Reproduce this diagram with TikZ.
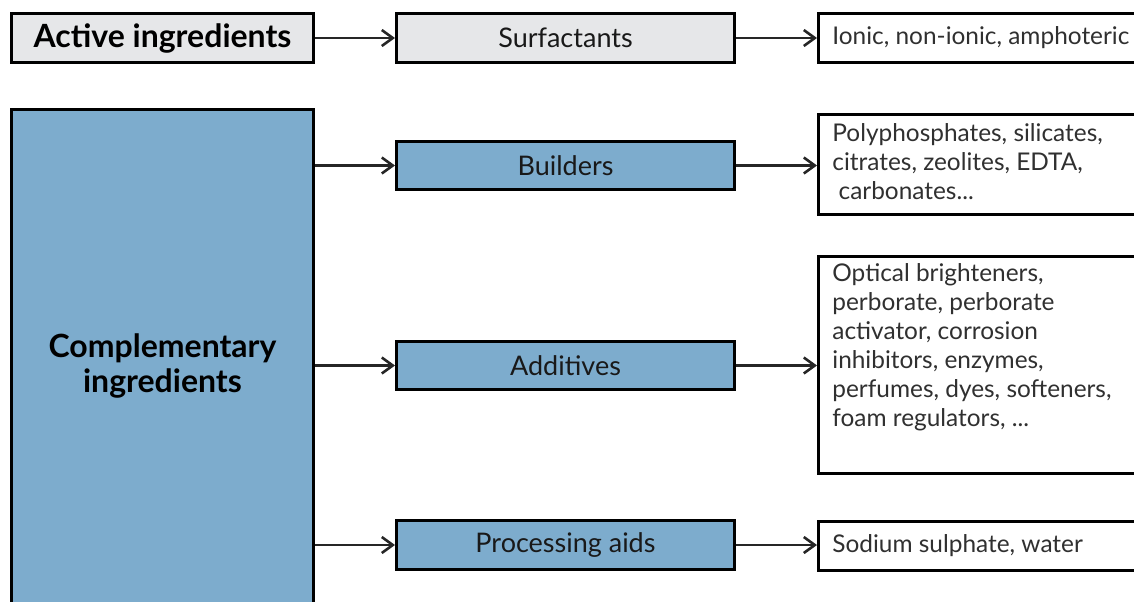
\documentclass[tikz,border=0pt]{standalone}
\usepackage{fontspec}
\setmainfont{Lato}
\usetikzlibrary{arrows.meta}
\definecolor{boxblue}{HTML}{7DACCD}
\definecolor{boxgray}{HTML}{E6E7E9}
\definecolor{txtgray}{HTML}{303030}
\begin{document}
\begin{tikzpicture}[x=0.5pt,y=-0.5pt,
  box/.style={draw=black,line width=1.5pt,inner sep=0pt,anchor=north west},
  title/.style={font=\bfseries\fontsize{16}{17.5}\selectfont},
  mid/.style={font=\fontsize{13.5}{15}\selectfont,text=black!90},
  body/.style={font=\fontsize{12.2}{14.5}\selectfont,text=txtgray,align=left,inner sep=0pt},
  arr/.style={-{Straight Barb[length=5.5pt,width=8pt,line width=1.3pt]},line width=1.2pt,draw=black!85},
]
\useasboundingbox (0,0) rectangle (1134,601);
\clip (0,0) rectangle (1134,601);
% left column
\node[box,fill=boxgray,minimum width=151pt,minimum height=24.5pt,title] (act) at (10,12) {Active ingredients};
\node[box,fill=boxblue,minimum width=151pt,minimum height=256pt,title,align=center] (comp) at (10,108) {Complementary\\ingredients};
% middle column
\node[box,fill=boxgray,minimum width=169pt,minimum height=24.5pt,mid] (sur) at (395,12) {Surfactants};
\node[box,fill=boxblue,minimum width=169pt,minimum height=24pt,mid] (bld) at (395,140) {Builders};
\node[box,fill=boxblue,minimum width=169pt,minimum height=24pt,mid] (add) at (395,340) {Additives};
\node[box,fill=boxblue,minimum width=169pt,minimum height=24.5pt,mid] (proc) at (395,519) {Processing aids};
% right column
\node[box,fill=white,minimum width=170pt,minimum height=24.5pt] (ion) at (817,12) {};
\node[box,fill=white,minimum width=170pt,minimum height=50pt] (bt) at (817,113) {};
\node[box,fill=white,minimum width=170pt,minimum height=108.5pt] (at) at (817,255) {};
\node[box,fill=white,minimum width=170pt,minimum height=24.5pt] (st) at (817,520) {};
% texts
\node[body,anchor=west] (iontx) at ([xshift=7.5pt]ion.west) {Ionic, non-ionic, amphoteric};
\node[body,anchor=north west] (bttx) at ([xshift=7.5pt,yshift=-5pt]bt.north west) {Polyphosphates, silicates,\\citrates, zeolites, EDTA,\\\ carbonates...};
\node[body,anchor=north west] (attx) at ([xshift=7.5pt,yshift=-4pt]at.north west) {Optical brighteners,\\perborate, perborate\\activator, corrosion\\inhibitors, enzymes,\\perfumes, dyes, softeners,\\foam regulators, ...};
\node[body,anchor=west] (sttx) at ([xshift=7.5pt]st.west) {Sodium sulphate, water};
% arrows
\draw[arr] (act) -- (sur);
\draw[arr] (sur) -- (sur -| ion.west);
\draw[arr] (comp.east |- bld.west) -- (bld.west);
\draw[arr] (comp.east |- add.west) -- (add.west);
\draw[arr] (comp.east |- proc.west) -- (proc.west);
\draw[arr] (bld.east) -- (bld.east -| bt.west);
\draw[arr] (add.east) -- (add.east -| at.west);
\draw[arr] (proc.east) -- (proc.east -| st.west);
\end{tikzpicture}
\end{document}
